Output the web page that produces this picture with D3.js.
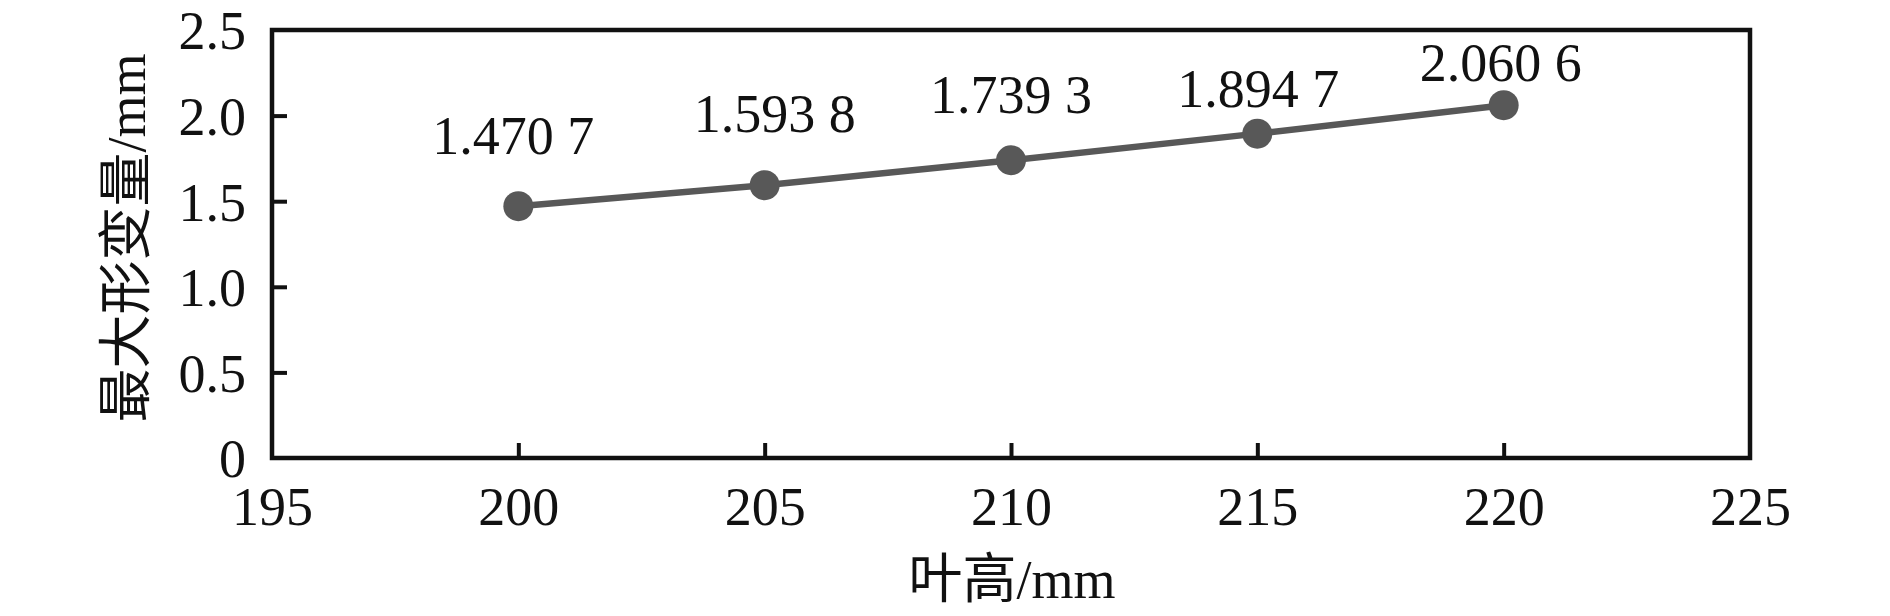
<!DOCTYPE html>
<html>
<head>
<meta charset="utf-8">
<script src="https://cdn.jsdelivr.net/npm/d3@7"></script>
<style>
html,body{margin:0;padding:0;background:#fff;}
svg{display:block;}
text{font-family:"Liberation Serif","Times New Roman","Noto Sans CJK SC",serif;fill:#111;}
</style>
</head>
<body>
<svg id="chart" width="1890" height="616"></svg>
<script>
// Data
const bladeHeights = [200, 205, 210, 215, 220];
const maxDeformation = [1.4707, 1.5938, 1.7393, 1.8947, 2.0606];
const pointLabels = ["1.470 7", "1.593 8", "1.739 3", "1.894 7", "2.060 6"];
const xTicks = [195, 200, 205, 210, 215, 220, 225];
const yTicks = [0, 0.5, 1.0, 1.5, 2.0, 2.5];
const yTickLabels = ["0", "0.5", "1.0", "1.5", "2.0", "2.5"];
const xTitle = "叶高/mm";
const yTitle = "最大形变量/mm";

// Layout (label placement above each point, in px)
const labelLift = [52, 53, 47, 27, 24];
const labelShift = [-5, 10, 0, 1, -3];

const W = 1890, H = 616;
const m = {left: 272, right: W - 1750, top: 30, bottom: H - 458};
const svg = d3.select("#chart");

const x = d3.scaleLinear().domain([195, 225]).range([m.left, W - m.right]);
const y = d3.scaleLinear().domain([0, 2.5]).range([H - m.bottom, m.top]);

const fs = 54;
const axisColor = "#111";

// frame
svg.append("rect")
  .attr("x", x(195)).attr("y", y(2.5))
  .attr("width", x(225) - x(195)).attr("height", y(0) - y(2.5))
  .attr("fill", "none").attr("stroke", axisColor).attr("stroke-width", 4.5);

// x axis
const xAxis = d3.axisBottom(x).tickValues(xTicks).tickSize(-15).tickPadding(0).tickFormat(d3.format("d"));
const gx = svg.append("g").attr("transform", `translate(0,${y(0)})`).call(xAxis);
gx.select(".domain").remove();
gx.selectAll(".tick line").attr("stroke", axisColor).attr("stroke-width", 4)
  .filter(d => d === 195 || d === 225).remove();
gx.selectAll(".tick text").attr("font-size", fs).attr("fill", "#111")
  .attr("y", 67).attr("dy", 0)
  .style("font-family", '"Liberation Serif","Times New Roman",serif');

// y axis
const yAxis = d3.axisLeft(y).tickValues(yTicks).tickSize(-15).tickPadding(0)
  .tickFormat((d, i) => yTickLabels[i]);
const gy = svg.append("g").attr("transform", `translate(${x(195)},0)`).call(yAxis);
gy.select(".domain").remove();
gy.selectAll(".tick line").attr("stroke", axisColor).attr("stroke-width", 4)
  .filter(d => d === 0 || d === 2.5).remove();
gy.selectAll(".tick text").attr("font-size", fs).attr("fill", "#111")
  .attr("x", -26).attr("dy", "0.35em")
  .style("font-family", '"Liberation Serif","Times New Roman",serif');

// line
const pts = bladeHeights.map((h, i) => [h, maxDeformation[i]]);
svg.append("path")
  .datum(pts)
  .attr("fill", "none")
  .attr("stroke", "#585858")
  .attr("stroke-width", 6.5)
  .attr("d", d3.line().x(d => x(d[0])).y(d => y(d[1])));

svg.selectAll("circle.pt").data(pts).join("circle")
  .attr("class", "pt")
  .attr("cx", d => x(d[0])).attr("cy", d => y(d[1]))
  .attr("r", 15).attr("fill", "#585858");

svg.selectAll("text.lbl").data(pts).join("text")
  .attr("class", "lbl")
  .attr("x", (d, i) => x(d[0]) + labelShift[i])
  .attr("y", (d, i) => y(d[1]) - labelLift[i])
  .attr("text-anchor", "middle")
  .attr("font-size", fs)
  .style("white-space", "pre")
  .text((d, i) => pointLabels[i]);

// titles
svg.append("text")
  .attr("x", (x(195) + x(225)) / 2 + 1)
  .attr("y", 598)
  .attr("text-anchor", "middle")
  .attr("font-size", fs)
  .text(xTitle);

svg.append("text")
  .attr("transform", `translate(145,${238}) rotate(-90)`)
  .attr("text-anchor", "middle")
  .attr("font-size", fs)
  .text(yTitle);
</script>
</body>
</html>
